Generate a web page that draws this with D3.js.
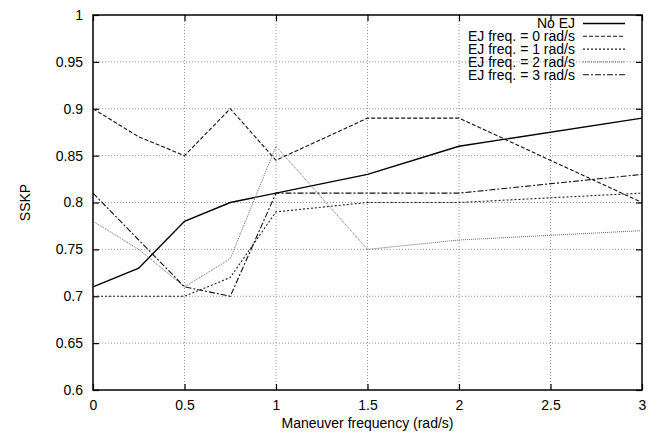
<!DOCTYPE html>
<meta charset="utf-8">
<style>
html, body { margin: 0; padding: 0; background: #fff; }
svg { display: block; }
text { font-family: "Liberation Sans", Helvetica, Arial, sans-serif; fill: #000; }
.grid line { stroke: #777; stroke-width: 0.8; stroke-dasharray: 1,2; }
</style>
<svg width="656" height="434"></svg>
<script src="https://d3js.org/d3.v7.min.js"></script>
<script>

var freqs = [0, 0.25, 0.5, 0.75, 1, 1.5, 2, 3];
var noEJ = [0.71, 0.73, 0.78, 0.80, 0.81, 0.83, 0.86, 0.89];
var ej0 = [0.90, 0.87, 0.85, 0.90, 0.845, 0.89, 0.89, 0.80];
var ej1 = [0.70, 0.70, 0.70, 0.72, 0.79, 0.80, 0.80, 0.81];
var ej2 = [0.78, 0.75, 0.71, 0.74, 0.86, 0.75, 0.76, 0.77];
var ej3 = [0.81, 0.76, 0.71, 0.70, 0.81, 0.81, 0.81, 0.83];
var xTicks = [0, 0.5, 1, 1.5, 2, 2.5, 3];
var yTicks = [0.6, 0.65, 0.7, 0.75, 0.8, 0.85, 0.9, 0.95, 1];
var legendLabels = ["No EJ", "EJ freq. = 0 rad/s", "EJ freq. = 1 rad/s", "EJ freq. = 2 rad/s", "EJ freq. = 3 rad/s"];

var series = [
  { name: legendLabels[0], values: noEJ, color: "#000", width: 1.4, dash: null },
  { name: legendLabels[1], values: ej0, color: "#111", width: 1.1, dash: "4,2" },
  { name: legendLabels[2], values: ej1, color: "#222", width: 1.1, dash: "2,2" },
  { name: legendLabels[3], values: ej2, color: "#666", width: 1, dash: "1,1" },
  { name: legendLabels[4], values: ej3, color: "#111", width: 1.1, dash: "6,2,2,2" }
];

var svg = d3.select("svg");
var pLeft = 93, pRight = 642, pTop = 15, pBottom = 390;

var x = d3.scaleLinear().domain([0, 3]).range([pLeft, pRight]);
var y = d3.scaleLinear().domain([0.6, 1]).range([pBottom, pTop]);

// grid
var grid = svg.append("g").attr("class", "grid");
grid.selectAll(".gx").data(xTicks.slice(1, -1)).enter().append("line")
    .attr("x1", d => x(d)).attr("x2", d => x(d))
    .attr("y1", pTop).attr("y2", pBottom);
grid.selectAll(".gy").data(yTicks.slice(1, -1)).enter().append("line")
    .attr("x1", pLeft).attr("x2", pRight)
    .attr("y1", d => y(d)).attr("y2", d => y(d));

// axes with inward ticks
var fmt = d => String(d);
svg.append("g").attr("transform", "translate(0," + pBottom + ")")
    .call(d3.axisBottom(x).tickValues(xTicks).tickSize(-6).tickPadding(10).tickFormat(fmt));
svg.append("g").attr("transform", "translate(0," + pTop + ")")
    .call(d3.axisTop(x).tickValues(xTicks).tickSize(-6).tickFormat(""));
svg.append("g").attr("transform", "translate(" + pLeft + ",0)")
    .call(d3.axisLeft(y).tickValues(yTicks).tickSize(-6).tickPadding(10).tickFormat(fmt));
svg.append("g").attr("transform", "translate(" + pRight + ",0)")
    .call(d3.axisRight(y).tickValues(yTicks).tickSize(-6).tickFormat(""));

svg.selectAll(".domain").remove();
svg.selectAll(".tick line").attr("stroke", "#000").attr("stroke-width", 1.2);
svg.selectAll(".tick text").style("font-size", "14px").style("font-family", "'Liberation Sans', Arial, sans-serif");

svg.append("rect")
    .attr("x", pLeft).attr("y", pTop)
    .attr("width", pRight - pLeft).attr("height", pBottom - pTop)
    .attr("fill", "none").attr("stroke", "#000").attr("stroke-width", 1.5);

// lines
var line = d3.line()
    .x((d, i) => x(freqs[i]))
    .y(d => y(d));

svg.selectAll(".series").data(series).enter().append("path")
    .attr("fill", "none")
    .attr("stroke", d => d.color)
    .attr("stroke-width", d => d.width)
    .attr("stroke-dasharray", d => d.dash)
    .attr("d", d => line(d.values));

// legend
var leg = svg.selectAll(".leg").data(series).enter().append("g")
    .attr("transform", (d, i) => "translate(0," + (23.5 + i * 12.8) + ")");
leg.append("text")
    .attr("x", 575).attr("dy", "0.35em")
    .attr("text-anchor", "end")
    .style("font-size", "14px")
    .text(d => d.name);
leg.append("line")
    .attr("x1", 583).attr("x2", 625)
    .attr("stroke", d => d.color)
    .attr("stroke-width", d => d.width)
    .attr("stroke-dasharray", d => d.dash);

// axis titles
svg.append("text")
    .attr("x", (pLeft + pRight) / 2).attr("y", 428)
    .attr("text-anchor", "middle")
    .style("font-size", "14px")
    .text("Maneuver frequency (rad/s)");
svg.append("text")
    .attr("transform", "translate(30," + (pTop + pBottom) / 2 + ") rotate(-90)")
    .attr("text-anchor", "middle")
    .style("font-size", "14px")
    .text("SSKP");

</script>
